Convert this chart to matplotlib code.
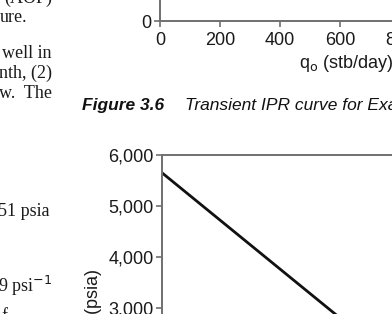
import matplotlib.pyplot as plt

plt.rcParams['font.family'] = ['Liberation Sans', 'DejaVu Sans']

W, H = 392, 314

# top chart (Figure 3.6, only the bottom edge is visible)
top_xticks = [0, 200, 400, 600, 800, 1000, 1200]
top_yticks = [0, 1000, 2000, 3000, 4000, 5000, 6000]

# bottom chart (next figure, only the upper left part is visible)
q_o = [0, 1178]          # stb/day
p_wf = [5651, 0]         # psia
bot_yticks = [0, 1000, 2000, 3000, 4000, 5000, 6000]
bot_xticks = [0, 200, 400, 600, 800, 1000, 1200]

axis_grey = '#707070'
ink = '#1a1a1a'


def px(x, y):
    return x / W, 1 - y / H


def make_axes(left, bottom, width, height):
    # pixel box, measured from the top-left corner of the page crop
    return fig.add_axes([left / W, 1 - bottom / H, width / W, height / H])


def style(ax):
    for s in ax.spines.values():
        s.set_color(axis_grey)
        s.set_linewidth(1.4)
    ax.tick_params(labelcolor=ink, color=axis_grey, labelsize=13,
                   length=4, width=1.2, pad=2)
    ax.tick_params(axis='x', pad=4)


fig = plt.figure(figsize=(3.92, 3.14), dpi=100)

# --- top chart
ax1 = make_axes(160, 21, 360, 300)
ax1.set_xlim(0, 1200)
ax1.set_ylim(0, 6000)
ax1.set_xticks(top_xticks)
ax1.set_yticks(top_yticks)
ax1.set_yticklabels(['0'] + ['{:,}'.format(v) for v in top_yticks[1:]])
style(ax1)

# --- bottom chart
ax2 = make_axes(162, 461, 360, 306)
ax2.plot(q_o, p_wf, color='#111111', lw=2)
ax2.set_xlim(0, 1200)
ax2.set_ylim(0, 6000)
ax2.set_xticks(bot_xticks)
ax2.set_yticks(bot_yticks)
ax2.set_yticklabels(['{:,}'.format(v) for v in bot_yticks])
style(ax2)

# axis labels placed by hand since the axes run off the crop
fig.text(*px(346, 64), 'q$_{\\mathrm{o}}$ (stb/day)', fontsize=13,
         ha='center', va='center', color=ink)
fig.text(*px(93, 269), 'p$_{\\mathrm{wf}}$ (psia)', fontsize=13, rotation=90,
         ha='center', va='top', color=ink)

# caption of the upper figure
fig.text(*px(82, 106), 'Figure 3.6', fontsize=12.5, fontweight='bold',
         fontstyle='italic', ha='left', va='center', color='#111111')
fig.text(*px(185, 106), 'Transient IPR curve for Example Problem 3.2',
         fontsize=12.5, fontstyle='italic', ha='left', va='center',
         color='#111111')

# cut-off body text at the left edge
serif = ['Liberation Serif', 'DejaVu Serif']
body = [
    (52, -2, '(AOF)', 'right'),
    (0, 17, 'ure.', 'left'),
    (52, 53, 'well in', 'right'),
    (52, 73, 'nth, (2)', 'right'),
    (52, 93, 'w.  The', 'right'),
    (50, 212, '51 psia', 'right'),
    (52, 286, '9 psi$^{-1}$', 'right'),
]
for x, y, s, ha in body:
    fig.text(*px(x, y), s, fontsize=13, family=serif, ha=ha, va='center',
             color=ink)
fig.text(*px(1, 308), 'f', fontsize=13, family=serif, ha='left', va='top',
         color=ink)

fig.savefig('out.png', dpi=100)
